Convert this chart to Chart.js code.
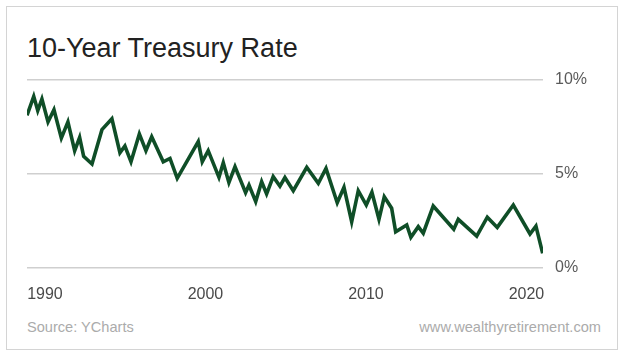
<!DOCTYPE html>
<html>
<head>
<meta charset="utf-8">
<script src="https://cdn.jsdelivr.net/npm/chart.js@4/dist/chart.umd.min.js"></script>
<style>
  html, body { margin: 0; padding: 0; background: #fff; }
  body { width: 624px; height: 357px; position: relative; overflow: hidden; font-family: "Liberation Sans", Arial, Helvetica, sans-serif; }
  #card { position: absolute; left: 6px; top: 6px; width: 610px; height: 342px; border: 1px solid #d4d4d4; }
  #title { position: absolute; left: 27px; top: 35px; font-size: 27px; line-height: 27px; color: #222; white-space: nowrap; }
  .foot { position: absolute; top: 320px; font-size: 14.6px; line-height: 14.6px; color: #ababab; white-space: nowrap; }
  #src { left: 27px; }
  #site { right: 23px; }
  #wrap { position: absolute; left: 0; top: 0; width: 624px; height: 357px; }
</style>
</head>
<body>
<div id="card"></div>
<div id="title">10-Year Treasury Rate</div>
<div class="foot" id="src">Source: YCharts</div>
<div class="foot" id="site">www.wealthyretirement.com</div>
<div id="wrap"><canvas id="c" width="624" height="357"></canvas></div>
<script>
// Decimal year of each vertex of the line
const years = [
  1988.88, 1989.30, 1989.55, 1989.81, 1990.19, 1990.56, 1991.02, 1991.43, 1991.85, 1992.16,
  1992.41, 1992.93, 1993.55, 1994.17, 1994.67, 1994.98, 1995.36, 1995.88, 1996.29, 1996.65,
  1997.37, 1997.79, 1998.24, 1999.55, 1999.80, 2000.17, 2000.84, 2001.11, 2001.46, 2001.84,
  2002.50, 2002.71, 2003.13, 2003.50, 2003.81, 2004.22, 2004.64, 2004.95, 2005.47, 2006.31,
  2007.03, 2007.51, 2008.21, 2008.63, 2009.11, 2009.52, 2010.02, 2010.37, 2010.81, 2011.14,
  2011.60, 2011.85, 2012.54, 2012.80, 2013.26, 2013.57, 2014.19, 2015.47, 2015.75, 2016.90,
  2017.56, 2018.18, 2019.18, 2020.22, 2020.59, 2021.01
];
// 10-year treasury rate, percent
const rates = [
  8.12, 9.13, 8.37, 8.99, 7.77, 8.42, 6.91, 7.77, 6.24, 6.95,
  5.94, 5.53, 7.36, 7.94, 6.13, 6.49, 5.65, 7.13, 6.24, 6.98,
  5.65, 5.83, 4.77, 6.72, 5.65, 6.24, 4.82, 5.60, 4.54, 5.39,
  4.01, 4.41, 3.53, 4.59, 3.94, 4.86, 4.35, 4.81, 4.11, 5.36,
  4.50, 5.30, 3.47, 4.29, 2.46, 4.11, 3.35, 4.03, 2.59, 3.79,
  3.18, 1.93, 2.29, 1.63, 2.20, 1.85, 3.30, 2.06, 2.59, 1.70,
  2.70, 2.16, 3.35, 1.81, 2.23, 0.78
];
const xTickYears = [1990, 2000, 2010, 2020];
const yTickValues = [0, 5, 10];

const points = years.map((y, i) => ({ x: y, y: rates[i] }));

new Chart(document.getElementById('c'), {
  type: 'line',
  data: {
    datasets: [{
      data: points,
      borderColor: '#0f4e27',
      borderWidth: 3.6,
      borderJoinStyle: 'miter',
      pointRadius: 0,
      tension: 0,
      fill: false
    }]
  },
  options: {
    responsive: false,
    animation: false,
    events: [],
    layout: { padding: { left: 27, top: 80, right: 0, bottom: 49 } },
    plugins: { legend: { display: false }, tooltip: { enabled: false }, title: { display: false } },
    scales: {
      x: {
        type: 'linear',
        min: 1988.88,
        max: 2021.03,
        grid: { display: false, drawTicks: false },
        border: { display: false },
        afterBuildTicks: (s) => { s.ticks = xTickYears.map(v => ({ value: v })); },
        afterFit: (s) => { s.height = 40; },
        ticks: {
          padding: 17,
          maxRotation: 0,
          autoSkip: false,
          color: '#4a4a4a',
          font: { family: '"Liberation Sans", Arial, sans-serif', size: 16 },
          callback: (v) => String(v)
        }
      },
      y: {
        position: 'right',
        min: 0,
        max: 10,
        afterBuildTicks: (s) => { s.ticks = yTickValues.map(v => ({ value: v })); },
        afterFit: (s) => { s.width = 81; },
        grid: { color: '#cfcfcf', lineWidth: 1.5, drawTicks: false },
        border: { display: false },
        ticks: {
          padding: 12,
          color: '#5a5a5a',
          font: { family: '"Liberation Sans", Arial, sans-serif', size: 16 },
          callback: (v) => v + '%'
        }
      }
    }
  }
});
</script>
</body>
</html>
